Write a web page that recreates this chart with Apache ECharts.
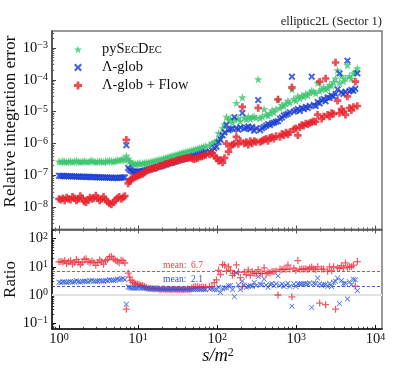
<!DOCTYPE html>
<html><head><meta charset="utf-8">
<script src="https://cdn.jsdelivr.net/npm/echarts@6.0.0/dist/echarts.min.js"></script>
<style>html,body{margin:0;padding:0;background:#fff}#c{width:411px;height:374px}</style>
</head><body><div id="c"></div>
<script>
// ---------- data ----------
const sOverM2 = [
 1.00,1.06,1.12,1.18,1.25,1.32,1.40,1.48,1.57,1.66,1.76,1.86,1.97,2.08,2.20,2.33,2.47,2.61,2.76,2.92,3.09,3.27,3.46,3.66,3.88,4.10,4.34,4.60,4.87,5.15,5.45,5.77,6.10,6.45,6.80,
 7.1,
 7.5,7.8,8.1,8.5,8.9,9.3,9.8,10.3,10.8,11.4,12.0,12.7,13.4,14.2,15.0,15.9,16.8,17.8,18.9,20.0,21.2,22.5,23.9,25.3,26.8,28.4,30.1,31.9,33.8,35.8,37.9,40.2,42.6,45.1,47.8,50.6,53.6,56.8,60.2,63.8,67.6,71.6,
 80,86,92,98,104,110,117,124,131,139,147,156,165,175,185,196,208,220,233,247,262,277,294,311,330,349,370,392,415,440,466,494,523,554,587,622,659,698,740,784,830,880,932,987,1046,1108,1174,1244,1318,1396,1479,1567,1660,1759,1864,1975,2092,2216,2348,2488,2636,2792,2958,3134,3320,3518,3727,3948,4183,4432,4695,4974,5270,5583,5915
];
const errPySecDec = [
 2.7e-7,2.6e-7,2.8e-7,2.7e-7,2.6e-7,2.7e-7,2.8e-7,2.6e-7,2.7e-7,2.9e-7,2.7e-7,2.6e-7,2.7e-7,2.8e-7,2.7e-7,2.6e-7,2.8e-7,2.9e-7,2.7e-7,2.6e-7,2.7e-7,2.8e-7,2.7e-7,2.6e-7,2.8e-7,2.7e-7,2.9e-7,2.8e-7,2.7e-7,2.8e-7,3.0e-7,2.9e-7,3.1e-7,3.3e-7,3.0e-7,
 4.1e-7,
 3.3e-7,2.8e-7,2.5e-7,2.3e-7,2.3e-7,2.2e-7,2.3e-7,2.4e-7,2.3e-7,2.4e-7,2.4e-7,2.5e-7,2.5e-7,2.6e-7,2.7e-7,2.8e-7,2.9e-7,3.0e-7,3.1e-7,3.2e-7,3.4e-7,3.5e-7,3.7e-7,3.9e-7,4.0e-7,4.2e-7,4.4e-7,4.6e-7,4.8e-7,5.0e-7,5.2e-7,5.4e-7,5.6e-7,5.8e-7,6.0e-7,6.3e-7,6.5e-7,6.8e-7,7.1e-7,7.5e-7,7.8e-7,8.2e-7,
 9e-7,1.0e-6,1.1e-6,1.2e-6,2.1e-6,1.6e-6,3.0e-6,4.0e-6,6.9e-6,5.5e-6,6.0e-6,4.5e-6,5.8e-6,1.86e-5,6.2e-6,5.0e-6,2.8e-5,6.5e-6,5.8e-6,7.0e-6,6.0e-6,6.8e-6,7.0e-6,6.4e-6,1.04e-4,6.3e-6,7.0e-6,1.2e-5,8.0e-6,7.5e-6,9.0e-6,1.1e-5,9.5e-6,1.2e-5,2.4e-5,
 1.3e-5,1.6e-5,1.5e-5,1.8e-5,2.2e-5,1.9e-5,5.0e-5,2.5e-5,2.2e-5,3.0e-5,2.6e-5,3.2e-5,3.0e-5,3.6e-5,3.2e-5,4.0e-5,4.5e-5,4.2e-5,3.8e-5,8.0e-5,4.5e-5,5.0e-5,5.8e-5,5.0e-5,5.6e-5,7.0e-5,6.5e-5,8.5e-5,1.1e-4,2.0e-4,8.0e-5,1.3e-4,9.0e-5,1.1e-4,2.9e-4,1.3e-4,1.1e-4,1.6e-4,1.8e-4,2.3e-4
];
const errLambdaGlob = [
 9.6e-8,9.4e-8,9.5e-8,9.3e-8,9.4e-8,9.2e-8,9.3e-8,9.1e-8,9.2e-8,9.0e-8,9.1e-8,9.0e-8,8.9e-8,9.0e-8,8.8e-8,8.9e-8,8.8e-8,8.7e-8,8.8e-8,8.6e-8,8.7e-8,8.5e-8,8.6e-8,8.4e-8,8.5e-8,8.4e-8,8.3e-8,8.4e-8,8.2e-8,8.3e-8,8.2e-8,8.3e-8,8.4e-8,8.5e-8,8.6e-8,
 8.8e-7,
 1.7e-7,1.5e-7,1.4e-7,1.3e-7,1.3e-7,1.25e-7,1.3e-7,1.3e-7,1.3e-7,1.35e-7,1.4e-7,1.45e-7,1.5e-7,1.55e-7,1.6e-7,1.7e-7,1.75e-7,1.85e-7,1.9e-7,2.0e-7,2.1e-7,2.2e-7,2.3e-7,2.4e-7,2.5e-7,2.6e-7,2.7e-7,2.9e-7,3.0e-7,3.1e-7,3.3e-7,3.4e-7,3.5e-7,3.7e-7,3.8e-7,4.0e-7,4.1e-7,4.3e-7,4.5e-7,4.7e-7,5.0e-7,5.3e-7,
 5.5e-7,6.0e-7,7.0e-7,7.8e-7,1.1e-6,1.3e-6,1.8e-6,2.2e-6,3.8e-6,2.6e-6,2.8e-6,2.9e-6,6.7e-6,3.0e-6,2.7e-6,3.2e-6,9e-6,2.9e-6,3.1e-6,3.4e-6,2.8e-6,3.3e-6,2.5e-6,3.0e-6,2.3e-5,2.6e-6,3.0e-6,3.3e-6,3.6e-6,4.0e-6,3.8e-6,4.3e-6,4.5e-6,4.8e-6,5.0e-6,
 6.0e-6,6.5e-6,7.5e-6,8.0e-6,8.5e-6,9.5e-6,1.25e-4,1.0e-5,1.1e-5,1.2e-5,1.05e-5,1.3e-5,1.2e-5,1.4e-5,1.3e-5,1.5e-5,1.25e-4,1.6e-5,1.5e-5,2.0e-5,1.8e-5,2.3e-5,2.5e-5,2.1e-5,2.8e-5,2.7e-5,3.2e-5,3.0e-5,3.6e-5,5.0e-5,1.6e-4,4.0e-5,3.6e-5,4.2e-5,4.0e-4,4.4e-5,4.8e-5,4.5e-5,5.2e-5,1.6e-4
];
const errLambdaFlow = [
 1.8e-8,1.7e-8,1.9e-8,1.6e-8,2.0e-8,1.8e-8,1.7e-8,2.1e-8,1.9e-8,1.6e-8,1.8e-8,2.2e-8,1.9e-8,1.5e-8,1.4e-8,1.7e-8,2.0e-8,1.8e-8,1.9e-8,2.3e-8,1.9e-8,1.6e-8,1.8e-8,2.1e-8,1.7e-8,1.5e-8,1.3e-8,1.2e-8,1.4e-8,1.6e-8,1.9e-8,2.1e-8,1.8e-8,2.0e-8,2.2e-8,
 1.3e-6,
 0.55e-7,0.65e-7,0.75e-7,0.8e-7,0.85e-7,0.9e-7,0.95e-7,1.0e-7,1.05e-7,1.1e-7,1.2e-7,1.35e-7,1.45e-7,1.5e-7,1.6e-7,1.7e-7,1.7e-7,1.8e-7,2.0e-7,2.0e-7,2.1e-7,2.3e-7,2.3e-7,2.5e-7,2.6e-7,2.6e-7,2.8e-7,3.0e-7,3.0e-7,3.2e-7,3.3e-7,3.4e-7,3.5e-7,3.6e-7,3.4e-7,3.2e-7,3.3e-7,3.5e-7,3.8e-7,3.9e-7,4.1e-7,4.3e-7,
 4.5e-7,5.0e-7,4.0e-7,3.5e-7,2.8e-7,3.0e-7,2.5e-7,3.5e-7,9.8e-7,5.5e-7,8.0e-7,9.0e-7,1.0e-6,1.6e-6,9.5e-7,1.2e-6,1.4e-5,1.0e-6,1.1e-6,9.0e-7,1.2e-6,1.0e-6,1.2e-6,1.1e-6,1.3e-5,1.1e-6,1.2e-6,1.3e-6,1.4e-6,1.2e-6,1.5e-6,1.6e-6,1.4e-6,1.7e-6,2.4e-5,
 1.6e-6,2.0e-6,1.8e-6,2.2e-6,1.9e-6,2.3e-6,5.8e-5,2.8e-6,3.0e-6,1.8e-6,3.2e-6,3.8e-6,3.6e-6,4.2e-6,4.0e-6,4.4e-6,4.6e-6,5.0e-6,4.8e-6,8.0e-6,8.7e-5,6.0e-6,7.0e-6,1.1e-4,8.0e-6,7.0e-6,9.0e-6,8.5e-6,3.5e-4,2.2e-5,9.0e-6,1.2e-5,1.0e-5,8.0e-6,3.0e-5,1.3e-5,1.1e-5,1.4e-5,8.7e-5,1.5e-5
];
const meanRatioFlow = [6.7];
const meanRatioGlob = [2.1];
const seriesNames = ['pySecDec', '\u039b-glob', '\u039b-glob + Flow'];
const xMajorTicks = [1, 10, 100, 1000, 10000];
const yErrMajorTicks = [1e-8, 1e-7, 1e-6, 1e-5, 1e-4, 1e-3];
const yRatioMajorTicks = [0.1, 1, 10, 100];

// ---------- helpers ----------
function minorTicks(lo, hi) { const r = []; for (let e = lo; e <= hi; e++) for (let m = 2; m <= 9; m++) r.push(m * Math.pow(10, e)); return r; }
const xMinorTicks = minorTicks(-1, 4);
const yErrMinorTicks = minorTicks(-10, -3);
const yRatioMinorTicks = minorTicks(-2, 2);

const FONT = 'Liberation Serif';
const X_MIN = 0.816, X_MAX = 12120;
const YE_MIN = 1.962e-9, YE_MAX = 3.423e-3;
const YR_MIN = 0.0623, YR_MAX = 210.2;

function powLabel(v) {
  const e = Math.round(Math.log10(v));
  return '{b|10}{s|' + String(e).replace('-', '\u2212') + '}';
}
const labelRich = {
  b: { fontFamily: FONT, fontSize: 14.5, color: '#111', verticalAlign: 'bottom' },
  s: { fontFamily: FONT, fontSize: 10, color: '#111', verticalAlign: 'top', padding: [0, 0, 5, 0] }
};
function axis(o) {
  return Object.assign({
    type: 'log', logBase: 10,
    axisLine: { show: false },
    axisTick: { show: false }, axisLabel: { show: false },
    splitLine: { show: false }, minorTick: { show: false }, minorSplitLine: { show: false }
  }, o);
}
function ticks(vals, len, col) {
  return { show: true, inside: true, length: len, customValues: vals, lineStyle: { color: col, width: len > 3 ? 1 : 0.8 } };
}

const STAR = 'path://M0,-10L2.35,-3.24L9.51,-3.09L3.8,1.24L5.88,8.09L0,4L-5.88,8.09L-3.8,1.24L-9.51,-3.09L-2.35,-3.24Z';
const XFILL = 'path://M-10,-6L-6,-10L0,-4L6,-10L10,-6L4,0L10,6L6,10L0,4L-6,10L-10,6L-4,0Z';
const PFILL = 'path://M-3.6,-10L3.6,-10L3.6,-3.6L10,-3.6L10,3.6L3.6,3.6L3.6,10L-3.6,10L-3.6,3.6L-10,3.6L-10,-3.6L-3.6,-3.6Z';
const PLUS = 'path://M-0.9,-5L0.9,-5L0.9,-0.9L5,-0.9L5,0.9L0.9,0.9L0.9,5L-0.9,5L-0.9,0.9L-5,0.9L-5,-0.9L-0.9,-0.9Z';
const CROSS = 'path://M-5,-3.9L-3.9,-5L0,-1.1L3.9,-5L5,-3.9L1.1,0L5,3.9L3.9,5L0,1.1L-3.9,5L-5,3.9L-1.1,0Z';

const GREEN = '#3cc46e', BLUE = '#1b3fd2', RED = '#e8222c';
const pts = ys => sOverM2.map((x, i) => [x, ys[i]]);
const ratio = (a, b) => sOverM2.map((x, i) => [x, a[i] / b[i]]);

const chart = echarts.init(document.getElementById('c'), null, { renderer: 'canvas' });
chart.setOption({
  animation: false,
  backgroundColor: '#fff',
  title: {
    text: 'elliptic2L (Sector 1)', right: 29, top: 15, padding: 0,
    textStyle: { fontFamily: FONT, fontSize: 12.5, fontWeight: 'normal', color: '#222' }
  },
  grid: [
    { left: 52, top: 31, width: 330, height: 198.5, show: true, borderColor: '#7a7a7a', borderWidth: 1.5, containLabel: false, outerBoundsMode: 'none' },
    { left: 52, top: 229.5, width: 330, height: 99.5, show: true, borderColor: '#7a7a7a', borderWidth: 1.5, containLabel: false, outerBoundsMode: 'none' }
  ],
  legend: {
    data: seriesNames, orient: 'vertical', left: 74, top: 42,
    itemWidth: 8, itemHeight: 8, itemGap: 3, padding: 0,
    textStyle: {
      fontFamily: FONT, fontSize: 14.5, color: '#111', padding: [0, 0, 0, 15],
      rich: { n: { fontFamily: FONT, fontSize: 14.5, color: '#111', verticalAlign: 'middle', lineHeight: 16 }, c: { fontFamily: FONT, fontSize: 10.5, color: '#111', verticalAlign: 'middle', lineHeight: 16, padding: [0.8, 0, 0, 0] } }
    },
    formatter: name => name === 'pySecDec' ? '{n|py}{n|S}{c|EC}{n|D}{c|EC}' : name
  },
  xAxis: [
    axis({ gridIndex: 0, position: 'bottom', min: X_MIN, max: X_MAX, axisLine: { show: true, onZero: false, lineStyle: { color: '#555', width: 1.5 } }, axisTick: ticks(xMajorTicks, 4, '#555') }),
    axis({ gridIndex: 0, position: 'bottom', min: X_MIN, max: X_MAX, axisTick: ticks(xMinorTicks, 2.2, '#555') }),
    axis({ gridIndex: 1, position: 'top', min: X_MIN, max: X_MAX, axisTick: ticks(xMajorTicks, 4, '#555') }),
    axis({ gridIndex: 1, position: 'top', min: X_MIN, max: X_MAX, axisTick: ticks(xMinorTicks, 2.2, '#555') }),
    axis({ gridIndex: 1, position: 'bottom', min: X_MIN, max: X_MAX,
      axisLine: { show: true, onZero: false, lineStyle: { color: '#111', width: 1.5 } },
      axisTick: ticks(xMajorTicks, 4, '#111'),
      axisLabel: { show: true, customValues: xMajorTicks, formatter: powLabel, rich: labelRich, margin: 3 } }),
    axis({ gridIndex: 1, position: 'bottom', min: X_MIN, max: X_MAX, axisTick: ticks(xMinorTicks, 2.2, '#111') })
  ],
  yAxis: [
    axis({ gridIndex: 0, position: 'left', min: YE_MIN, max: YE_MAX,
      axisLine: { show: true, onZero: false, lineStyle: { color: '#444', width: 1.5 } },
      axisTick: ticks(yErrMajorTicks, 4, '#444'),
      axisLabel: { show: true, customValues: yErrMajorTicks, formatter: powLabel, rich: labelRich, margin: 4 } }),
    axis({ gridIndex: 0, position: 'left', min: YE_MIN, max: YE_MAX, axisTick: ticks(yErrMinorTicks, 2.2, '#444') }),
    axis({ gridIndex: 1, position: 'left', min: YR_MIN, max: YR_MAX,
      axisLine: { show: true, onZero: false, lineStyle: { color: '#111', width: 1.5 } },
      axisTick: ticks(yRatioMajorTicks, 4, '#111'),
      axisLabel: { show: true, customValues: yRatioMajorTicks, formatter: powLabel, rich: labelRich, margin: 4 } }),
    axis({ gridIndex: 1, position: 'left', min: YR_MIN, max: YR_MAX, axisTick: ticks(yRatioMinorTicks, 2.2, '#111') })
  ],
  series: [
    { name: seriesNames[0], type: 'scatter', xAxisIndex: 0, yAxisIndex: 0, symbol: STAR, symbolSize: 8.5, itemStyle: { color: GREEN }, data: pts(errPySecDec) },
    { name: seriesNames[1], type: 'scatter', xAxisIndex: 0, yAxisIndex: 0, symbol: XFILL, symbolSize: 7, itemStyle: { color: BLUE }, data: pts(errLambdaGlob) },
    { name: seriesNames[2], type: 'scatter', xAxisIndex: 0, yAxisIndex: 0, symbol: PFILL, symbolSize: 7.5, itemStyle: { color: RED }, data: pts(errLambdaFlow) },
    { name: 'ratioFlow', type: 'scatter', xAxisIndex: 4, yAxisIndex: 2, symbol: PLUS, symbolSize: 7, itemStyle: { color: '#ee3340' }, data: ratio(errPySecDec, errLambdaFlow),
      markLine: { silent: true, symbol: ['none', 'none'], label: { show: false }, z: 1,
        data: [
          { yAxis: 1, lineStyle: { color: '#e2e2e2', width: 2.2, type: 'solid' } },
          { yAxis: meanRatioFlow[0], lineStyle: { color: '#e8303a', width: 0.9, type: [3, 2] } },
          { yAxis: meanRatioGlob[0], lineStyle: { color: '#2a4fd6', width: 0.9, type: [3, 2] } }
        ] },
      markPoint: { silent: true, symbol: 'circle', symbolSize: 0,
        data: [
          { coord: [20.7, meanRatioFlow[0]], label: { show: true, position: 'top', distance: 1, align: 'left', formatter: 'mean:  ' + meanRatioFlow[0], fontFamily: FONT, fontSize: 9.5, color: '#e8404a' } },
          { coord: [20.7, meanRatioGlob[0]], label: { show: true, position: 'top', distance: 1, align: 'left', formatter: 'mean:  ' + meanRatioGlob[0], fontFamily: FONT, fontSize: 9.5, color: '#3050d8' } }
        ] } },
    { name: 'ratioGlob', type: 'scatter', xAxisIndex: 4, yAxisIndex: 2, symbol: CROSS, symbolSize: 5.5, itemStyle: { color: '#2a55dd' }, data: ratio(errPySecDec, errLambdaGlob) }
  ],
  graphic: [
    { type: 'text', x: 11, y: 121.5, rotation: Math.PI / 2, style: { text: 'Relative integration error', font: '17px "Liberation Serif"', fill: '#111', textAlign: 'center', textVerticalAlign: 'middle' } },
    { type: 'text', x: 11, y: 279.5, rotation: Math.PI / 2, style: { text: 'Ratio', font: '17px "Liberation Serif"', fill: '#111', textAlign: 'center', textVerticalAlign: 'middle' } },
    { type: 'text', x: 218, y: 356, style: { text: '{i|s/m}{s|2}', textAlign: 'center', textVerticalAlign: 'middle',
      rich: { i: { fontFamily: FONT, fontStyle: 'italic', fontSize: 18.5, fill: '#111', verticalAlign: 'bottom' }, s: { fontFamily: FONT, fontSize: 12, fill: '#111', verticalAlign: 'top', padding: [0, 0, 6, 0] } } } }
  ]
});
</script></body></html>
